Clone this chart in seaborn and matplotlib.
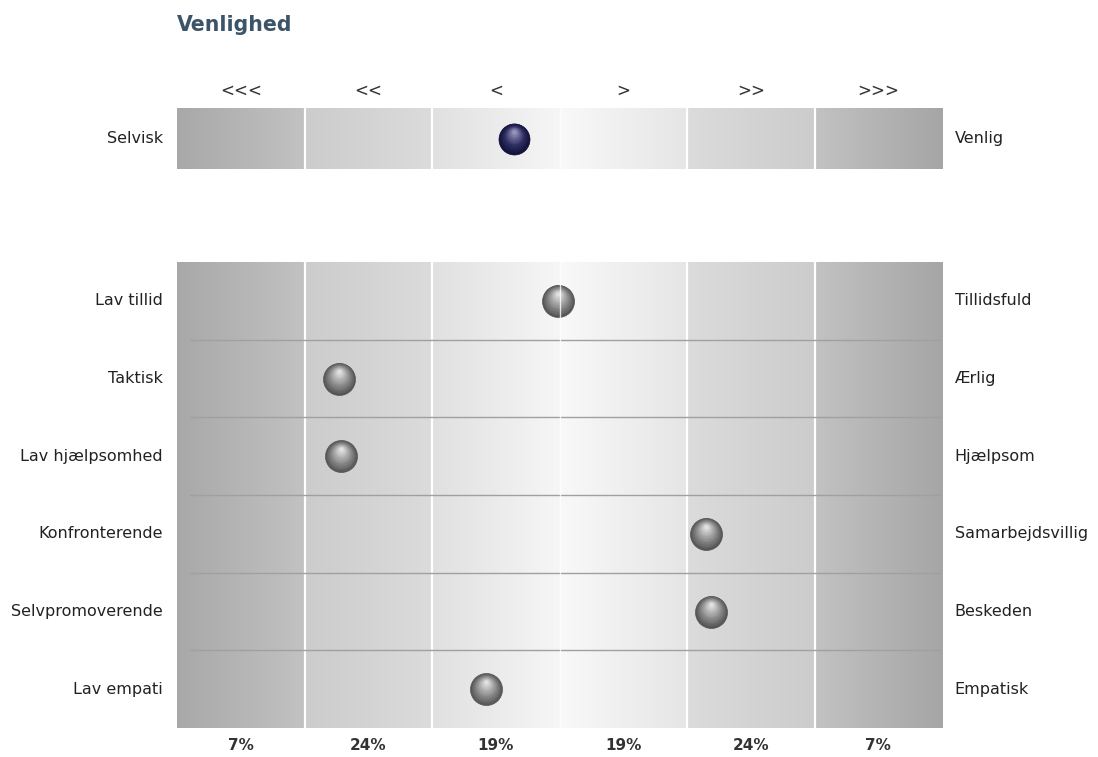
import numpy as np
import pandas as pd
import matplotlib
matplotlib.use("Agg")
import matplotlib.pyplot as plt
import matplotlib.transforms as mtransforms
from matplotlib import font_manager
import matplotlib.colors as mcolors
import seaborn as sns

# ---------------- data ----------------
title = "Venlighed"
band_labels = ["<<<", "<<", "<", ">", ">>", ">>>"]
band_pcts = ["7%", "24%", "19%", "19%", "24%", "7%"]

top_left = ["Selvisk"]
top_right = ["Venlig"]
top_values = [2.64]

left_labels = ["Lav tillid", "Taktisk", "Lav hjælpsomhed", "Konfronterende",
               "Selvpromoverende", "Lav empati"]
right_labels = ["Tillidsfuld", "Ærlig", "Hjælpsom", "Samarbejdsvillig",
                "Beskeden", "Empatisk"]
values = [2.99, 1.27, 1.29, 4.15, 4.19, 2.42]

# ---------------- style ----------------
sns.set_theme(style="white")
plt.rcParams["font.family"] = ["DejaVu Sans"]

title_fp = font_manager.FontProperties(family="DejaVu Sans", weight="bold", size=14.8)

W, H = 1098, 757
fig = plt.figure(figsize=(W / 100, H / 100), dpi=100)
fig.patch.set_facecolor("white")

x0, x1 = 177, 942
ax_top = fig.add_axes([x0 / W, 1 - 169 / H, (x1 - x0) / W, 61 / H])
ax_bot = fig.add_axes([x0 / W, 1 - 728 / H, (x1 - x0) / W, 466 / H])

band_grad = [(0.66, 0.76), (0.80, 0.86), (0.88, 0.965), (0.975, 0.90),
             (0.86, 0.80), (0.76, 0.65)]


def draw_background(ax, nrows):
    for i, (a, b) in enumerate(band_grad):
        g = np.linspace(a, b, 64)[None, :]
        ax.imshow(np.dstack([g, g, g]), extent=[i, i + 1, nrows - 0.5, -0.5],
                  aspect="auto", interpolation="bilinear", zorder=0)
    for xv in [1, 2, 4, 5]:
        ax.axvline(xv, color="white", lw=1.6, zorder=1)
    ax.axvline(3, color="white", lw=1.0, alpha=0.8, zorder=6)
    ax.set_xlim(0, 6)
    ax.set_ylim(nrows - 0.5, -0.5)
    ax.set_xticks([])
    ax.set_yticks([])
    ax.set_xlabel("")
    ax.set_ylabel("")
    for s in ax.spines.values():
        s.set_visible(False)


def draw_spheres(ax, xs, ys, edge, mid, hi, diam_px=32):
    df = pd.DataFrame({"x": xs, "y": ys})
    diam_pt = diam_px * 0.72
    sns.scatterplot(data=df, x="x", y="y", s=diam_pt ** 2, color=edge,
                    edgecolor=edge, linewidth=0.5, ax=ax, zorder=3, legend=False)
    c_edge = np.array(mcolors.to_rgb(edge))
    c_mid = np.array(mcolors.to_rgb(mid))
    c_hi = np.array(mcolors.to_rgb(hi))
    nl = 18
    for k in range(1, nl + 1):
        t = k / nl
        r = 1 - 0.9 * t
        if t < 0.4:
            c = c_edge + (c_mid - c_edge) * (t / 0.4)
        else:
            c = c_mid + (c_hi - c_mid) * ((t - 0.4) / 0.6)
        dy = (1 - r) * diam_px * 0.25
        tr = mtransforms.offset_copy(ax.transData, fig=fig, x=0, y=dy, units="dots")
        ax.scatter(df["x"], df["y"], s=(diam_pt * r) ** 2, color=c,
                   linewidths=0, transform=tr, zorder=4)


# top panel
draw_background(ax_top, 1)
draw_spheres(ax_top, top_values, list(range(len(top_values))),
             "#12123a", "#2e2e62", "#9696bc", diam_px=31)
ax_top.set_xlim(0, 6); ax_top.set_ylim(0.5, -0.5)
for i, lab in enumerate(band_labels):
    ax_top.text(i + 0.5, -0.5 - 0.28, lab, ha="center", va="center",
                fontsize=12, color="#333333", clip_on=False)
for i, lab in enumerate(top_left):
    ax_top.text(-0.11, i, lab, ha="right", va="center", fontsize=11.5,
                color="#222222", clip_on=False)
for i, lab in enumerate(top_right):
    ax_top.text(6.1, i, lab, ha="left", va="center", fontsize=11.5,
                color="#222222", clip_on=False)

# bottom panel
n = len(left_labels)
draw_background(ax_bot, n)
for k in range(1, n):
    ax_bot.plot([0.1, 6], [k - 0.5, k - 0.5], color="#a0a0a0", lw=1.0, zorder=2)
draw_spheres(ax_bot, values, list(range(n)), "#555555", "#8a8a8a", "#e2e2e2")
ax_bot.set_xlim(0, 6); ax_bot.set_ylim(n - 0.5, -0.5)
for i, lab in enumerate(left_labels):
    ax_bot.text(-0.11, i, lab, ha="right", va="center", fontsize=11.5,
                color="#222222", clip_on=False)
for i, lab in enumerate(right_labels):
    ax_bot.text(6.1, i, lab, ha="left", va="center", fontsize=11.5,
                color="#222222", clip_on=False)
for i, lab in enumerate(band_pcts):
    ax_bot.text(i + 0.5, n - 0.5 + 0.22, lab, ha="center", va="center",
                fontsize=11, fontweight="bold", color="#333333", clip_on=False)

fig.text(177 / W, 1 - 25 / H, title, ha="left", va="center",
         fontproperties=title_fp, color="#3c5468")

fig.savefig("out.png", dpi=100, facecolor="white")
